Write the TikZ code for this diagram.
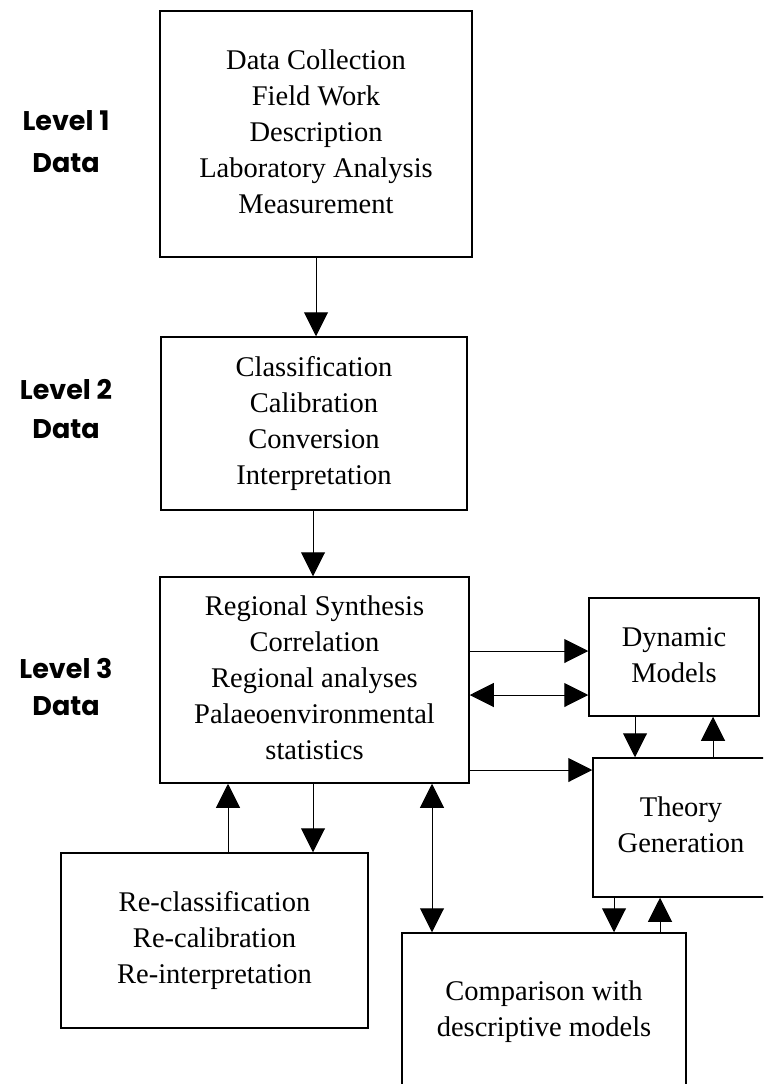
\documentclass[tikz,border=0pt]{standalone}
\usepackage{fontspec}
\setmainfont{Liberation Serif}
\newfontfamily\lvfont{Poppins}
\usetikzlibrary{arrows.meta}
\begin{document}
\begin{tikzpicture}[x=1pt,y=-1pt,
  box/.style={draw, line width=1.5pt, inner sep=0pt, align=center,
    font=\fontsize{28.5}{36}\selectfont},
  lvl/.style={font=\lvfont\bfseries\fontsize{27}{39}\selectfont, anchor=base},
  tip/.tip={Triangle[length=24pt,width=24pt]},
  conn/.style={line width=1pt, -tip},
  both/.style={line width=1pt, tip-tip}]
\useasboundingbox (0,0) rectangle (763,1084);
\clip (0,0) rectangle (763,1084);
\fill[white] (0,0) rectangle (763,1084);

% level labels
\node[lvl] (l1a) at (66,130) {Level 1};
\node[lvl] (l1b) at (66,172) {Data};
\node[lvl] (l2a) at (66,399) {Level 2};
\node[lvl] (l2b) at (66,438) {Data};
\node[lvl] (l3a) at (66,678) {Level 3};
\node[lvl] (l3b) at (66,715) {Data};

% boxes
\node[box, minimum width=312pt, minimum height=246pt] (b1) at (316,134)
  {\strut Data Collection\\\strut Field Work\\\strut Description\\\strut Laboratory Analysis\\\strut Measurement};
\node[box, minimum width=306pt, minimum height=173pt] (b2) at (314,423.5)
  {\strut Classification\\\strut Calibration\\\strut Conversion\\\strut Interpretation};
\node[box, minimum width=309pt, minimum height=206pt] (b3) at (314.5,680)
  {\strut Regional Synthesis\\\strut Correlation\\\strut Regional analyses\\\strut Palaeoenvironmental\\\strut statistics};
\node[box, minimum width=170pt, minimum height=118pt] (dm) at (674,657)
  {\strut Dynamic\\\strut Models};
\node[box, minimum width=176pt, minimum height=139pt] (tg) at (681,827.5)
  {\strut Theory\\\strut Generation};
\node[box, minimum width=307pt, minimum height=175pt] (rc) at (214.5,940.5)
  {\strut Re-classification\\\strut Re-calibration\\\strut Re-interpretation};
\node[box, minimum width=284pt, minimum height=157pt] (cm) at (544,1011.5)
  {\strut Comparison with\\\strut descriptive models};

% connector columns and rows
\coordinate (x228) at (228,0);
\coordinate (x313) at (313,0);
\coordinate (x432) at (432,0);
\coordinate (x614) at (614,0);
\coordinate (x635) at (635,0);
\coordinate (x660) at (660,0);
\coordinate (x713) at (713,0);
\coordinate (y651) at (0,651);
\coordinate (y695) at (0,695);
\coordinate (y770) at (0,770);

% connectors
\draw[conn] (b1.south) -- (b1.south |- b2.north);
\draw[conn] (b2.south -| x313) -- (b3.north -| x313);
\draw[conn] (b3.east |- y651) -- (dm.west |- y651);
\draw[both] (b3.east |- y695) -- (dm.west |- y695);
\draw[conn] (b3.east |- y770) -- (tg.west |- y770);
\draw[conn] (dm.south -| x635) -- (tg.north -| x635);
\draw[conn] (tg.north -| x713) -- (dm.south -| x713);
\draw[conn] (b3.south -| x313) -- (rc.north -| x313);
\draw[conn] (rc.north -| x228) -- (b3.south -| x228);
\draw[both] (b3.south -| x432) -- (cm.north -| x432);
\draw[conn] (tg.south -| x614) -- (cm.north -| x614);
\draw[conn] (cm.north -| x660) -- (tg.south -| x660);
\end{tikzpicture}
\end{document}
